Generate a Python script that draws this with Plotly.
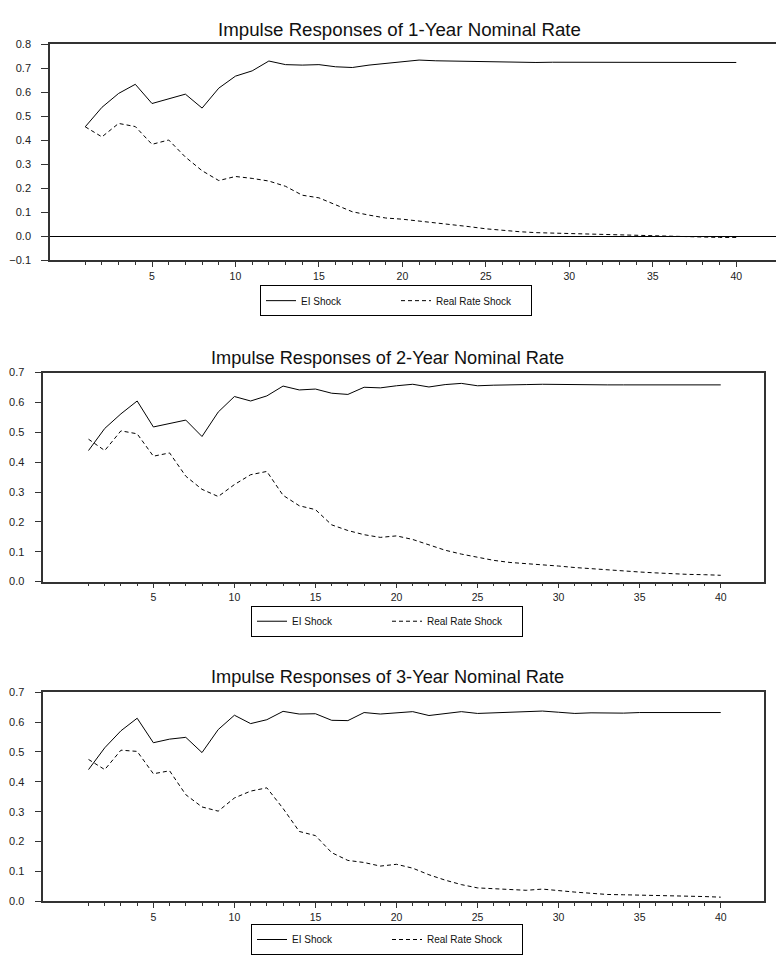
import plotly.graph_objects as go

W, H = 776, 955

horizon = list(range(1, 41))

# 1-Year nominal rate responses
ei_1y = [0.457, 0.538, 0.596, 0.634, 0.554, 0.574, 0.593, 0.535, 0.618, 0.668,
         0.690, 0.731, 0.716, 0.714, 0.716, 0.707, 0.704, 0.714, 0.720, 0.728,
         0.735, 0.732, 0.731, 0.729, 0.726, 0.725, 0.725, 0.725, 0.726, 0.726,
         0.726, 0.726, 0.725, 0.725, 0.724, 0.724, 0.725, 0.725, 0.725, 0.725]
rr_1y = [0.457, 0.415, 0.471, 0.458, 0.384, 0.402, 0.331, 0.274, 0.233, 0.250,
         0.242, 0.231, 0.209, 0.172, 0.161, 0.131, 0.103, 0.089, 0.077, 0.072,
         0.065, 0.055, 0.048, 0.041, 0.032, 0.025, 0.020, 0.016, 0.014, 0.012,
         0.010, 0.007, 0.005, 0.003, 0.001, -0.001, -0.002, -0.003, -0.004, -0.004]

# 2-Year nominal rate responses
ei_2y = [0.439, 0.513, 0.562, 0.605, 0.518, 0.529, 0.541, 0.486, 0.568, 0.620,
         0.605, 0.622, 0.655, 0.642, 0.645, 0.631, 0.627, 0.651, 0.649, 0.656,
         0.661, 0.652, 0.660, 0.664, 0.656, 0.658, 0.660, 0.660, 0.661, 0.660,
         0.659, 0.660, 0.659, 0.659, 0.659, 0.659, 0.659, 0.659, 0.659, 0.659]
rr_2y = [0.477, 0.439, 0.505, 0.495, 0.420, 0.431, 0.353, 0.309, 0.285, 0.325,
         0.358, 0.369, 0.289, 0.254, 0.241, 0.190, 0.171, 0.157, 0.148, 0.153,
         0.141, 0.122, 0.105, 0.092, 0.081, 0.071, 0.064, 0.060, 0.058, 0.052,
         0.047, 0.043, 0.038, 0.035, 0.032, 0.029, 0.026, 0.024, 0.023, 0.021]

# 3-Year nominal rate responses
ei_3y = [0.441, 0.514, 0.571, 0.613, 0.531, 0.543, 0.549, 0.498, 0.575, 0.623,
         0.595, 0.608, 0.636, 0.627, 0.628, 0.606, 0.605, 0.632, 0.627, 0.630,
         0.635, 0.622, 0.629, 0.635, 0.629, 0.631, 0.633, 0.633, 0.637, 0.633,
         0.629, 0.631, 0.630, 0.630, 0.632, 0.632, 0.633, 0.634, 0.633, 0.632]
rr_3y = [0.475, 0.441, 0.506, 0.502, 0.427, 0.437, 0.357, 0.316, 0.302, 0.346,
         0.369, 0.380, 0.311, 0.234, 0.220, 0.163, 0.137, 0.130, 0.118, 0.124,
         0.111, 0.089, 0.071, 0.056, 0.045, 0.042, 0.040, 0.037, 0.041, 0.035,
         0.031, 0.027, 0.023, 0.022, 0.021, 0.019, 0.019, 0.019, 0.016, 0.014]

titles = ["Impulse Responses of 1-Year Nominal Rate",
          "Impulse Responses of 2-Year Nominal Rate",
          "Impulse Responses of 3-Year Nominal Rate"]
series_names = ["EI Shock", "Real Rate Shock"]
x_ticks = [5, 10, 15, 20, 25, 30, 35, 40]

FONT = "Arial, Liberation Sans, sans-serif"
AXIS_COL = "#333333"

# panel geometry in pixels: left, right, top, bottom, x-range, y-range
panels = [
    dict(ei=ei_1y, rr=rr_1y, left=50, right=776, top=39, bottom=258,
         xr=[-1.11, 42.38], yr=[-0.1, 0.8], ymirror=False, zero=True,
         title_x=400, title_y=23.5, title_size=18.7,
         leg_x=260, leg_y=283),
    dict(ei=ei_2y, rr=rr_2y, left=43.3, right=764, top=371.7, bottom=583.5,
         xr=[-1.79, 42.67], yr=[0.0, 0.7], ymirror=True, zero=False,
         title_x=387, title_y=356.7, title_size=18.2,
         leg_x=251, leg_y=608),
    dict(ei=ei_3y, rr=rr_3y, left=43.3, right=764, top=695.7, bottom=907.7,
         xr=[-1.79, 42.67], yr=[0.0, 0.7], ymirror=True, zero=False,
         title_x=387, title_y=680.7, title_size=18.2,
         leg_x=251, leg_y=931),
]

fig = go.Figure()
annotations = []
layout = {}

for i, p in enumerate(panels):
    n = "" if i == 0 else str(i + 1)
    leg = "legend" + n
    fig.add_trace(go.Scatter(
        x=horizon, y=p["ei"], mode="lines", name=series_names[0],
        line=dict(color="black", width=1), xaxis="x" + n, yaxis="y" + n,
        legend=leg))
    fig.add_trace(go.Scatter(
        x=horizon, y=p["rr"], mode="lines", name=series_names[1],
        line=dict(color="black", width=1, dash="4px,3px"),
        xaxis="x" + n, yaxis="y" + n, legend=leg))

    layout["xaxis" + n] = dict(
        domain=[p["left"] / W, p["right"] / W], range=p["xr"],
        anchor="y" + n, showline=True, linecolor=AXIS_COL, linewidth=1.5,
        mirror=True, showgrid=False, zeroline=False,
        tickmode="array", tickvals=x_ticks, ticktext=[str(v) for v in x_ticks],
        ticks="outside", ticklen=5, tickcolor=AXIS_COL, tickwidth=1,
        tickfont=dict(family=FONT, size=10.5, color="#222222"),
        minor=dict(tickmode="array", tickvals=horizon, ticks="outside",
                   ticklen=3, tickcolor=AXIS_COL, tickwidth=1))
    layout["yaxis" + n] = dict(
        domain=[1 - p["bottom"] / H, 1 - p["top"] / H], range=p["yr"],
        anchor="x" + n, showline=True, linecolor=AXIS_COL, linewidth=1.5,
        mirror=p["ymirror"], showgrid=False,
        zeroline=p["zero"], zerolinecolor="black", zerolinewidth=1,
        tickmode="linear", tick0=0, dtick=0.1, tickformat=".1f",
        ticks="outside", ticklen=7, tickcolor=AXIS_COL, tickwidth=1,
        ticklabelstandoff=8,
        tickfont=dict(family=FONT, size=11, color="#222222"))
    layout[leg] = dict(
        orientation="h", x=p["leg_x"] / W, y=1 - p["leg_y"] / H,
        xanchor="left", yanchor="top", bordercolor="black", borderwidth=1,
        bgcolor="white", entrywidth=90, traceorder="normal",
        font=dict(family=FONT, size=10, color="#111111"))
    annotations.append(dict(
        text=titles[i], xref="paper", yref="paper",
        x=p["title_x"] / W, y=1 - p["title_y"] / H, xanchor="center",
        yanchor="middle", showarrow=False,
        font=dict(family=FONT, size=p["title_size"], color="#111111")))

fig.update_layout(
    width=W, height=H, margin=dict(l=0, r=0, t=0, b=0),
    paper_bgcolor="white", plot_bgcolor="white", showlegend=True,
    annotations=annotations, **layout)

fig.write_html("out.html")
